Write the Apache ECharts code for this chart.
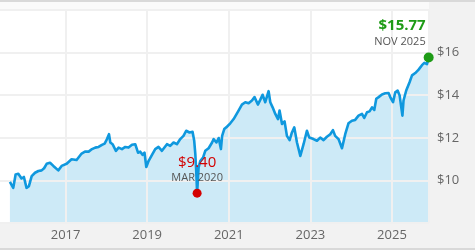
<!DOCTYPE html>
<html>
<head>
<meta charset="utf-8">
<script src="https://cdn.jsdelivr.net/npm/echarts@6/dist/echarts.min.js"></script>
<style>
  html, body { margin: 0; padding: 0; }
  #main { width: 475px; height: 250px; }
</style>
</head>
<body>
<div id="main"></div>
<script>
var dates = [
  '2015-08-21', '2015-09-20', '2015-10-11', '2015-11-04', '2015-12-03', '2015-12-24',
  '2016-01-17', '2016-02-07', '2016-03-03', '2016-04-02', '2016-05-02', '2016-05-31',
  '2016-06-22', '2016-07-15', '2016-08-14', '2016-09-13', '2016-10-27', '2016-11-26',
  '2017-01-10', '2017-02-23', '2017-04-09', '2017-05-24', '2017-06-23', '2017-07-26',
  '2017-08-25', '2017-09-23', '2017-10-23', '2017-11-22', '2017-12-16',
  '2018-01-06', '2018-01-24', '2018-02-05', '2018-02-25', '2018-03-27', '2018-04-20',
  '2018-05-20', '2018-06-19', '2018-07-18', '2018-08-18', '2018-09-16', '2018-10-11',
  '2018-10-31', '2018-11-20', '2018-12-08', '2018-12-24',
  '2019-01-13', '2019-02-13', '2019-03-14', '2019-04-12', '2019-05-13', '2019-06-27',
  '2019-07-26', '2019-08-25', '2019-09-24', '2019-10-24', '2019-11-22', '2019-12-16',
  '2020-01-15', '2020-02-11', '2020-02-26', '2020-03-07', '2020-03-15', '2020-03-23',
  '2020-04-05', '2020-04-20', '2020-05-15', '2020-06-04', '2020-07-04', '2020-08-04',
  '2020-08-18', '2020-09-12', '2020-10-02', '2020-10-22', '2020-11-02', '2020-11-21',
  '2020-12-15',
  '2021-01-14', '2021-02-13', '2021-02-28', '2021-03-29', '2021-04-28', '2021-05-28',
  '2021-06-27', '2021-07-27', '2021-08-19', '2021-09-18', '2021-10-09', '2021-10-30',
  '2021-11-23', '2021-12-23',
  '2022-01-07', '2022-01-28', '2022-02-21', '2022-03-17', '2022-03-31', '2022-04-22',
  '2022-05-15', '2022-06-05', '2022-06-29', '2022-07-20', '2022-08-10', '2022-09-03',
  '2022-10-03', '2022-11-01', '2022-12-01', '2022-12-22',
  '2023-01-29', '2023-03-01', '2023-03-30', '2023-04-29', '2023-05-29', '2023-06-28',
  '2023-07-22', '2023-08-11', '2023-09-10', '2023-10-11', '2023-11-09', '2023-12-08',
  '2024-01-08', '2024-02-06', '2024-03-07', '2024-04-07', '2024-04-27', '2024-05-22',
  '2024-06-14', '2024-07-06', '2024-07-26', '2024-08-13', '2024-09-03', '2024-10-03',
  '2024-11-02', '2024-12-01', '2024-12-16',
  '2025-01-10', '2025-01-30', '2025-02-20', '2025-03-10', '2025-04-04', '2025-04-14',
  '2025-05-08', '2025-06-07', '2025-06-29', '2025-07-28', '2025-08-27', '2025-09-26',
  '2025-10-17', '2025-11-10', '2025-11-25'
];

var prices = [
  9.93, 9.65, 10.28, 10.31, 10.09, 10.16,
  9.65, 9.73, 10.20, 10.36, 10.44, 10.47,
  10.57, 10.78, 10.83, 10.68, 10.47, 10.68,
  10.78, 10.99, 10.96, 11.26, 11.35, 11.35,
  11.47, 11.54, 11.57, 11.67, 11.73,
  11.94, 12.17, 11.78, 11.70, 11.39, 11.54,
  11.47, 11.57, 11.54, 11.67, 11.70, 11.30,
  11.35, 11.20, 11.30, 10.63,
  10.91, 11.20, 11.47, 11.57, 11.39, 11.70,
  11.62, 11.78, 11.70, 11.94, 12.09, 12.33,
  12.25, 12.28, 11.86, 11.23, 10.44, 9.40,
  10.60, 10.91, 11.07, 11.39, 11.51, 11.78,
  11.94, 11.78, 11.99, 11.47, 12.09, 12.41,
  12.52,
  12.68, 12.88, 12.80, 13.28, 13.56, 13.67,
  13.62, 13.75, 13.91, 13.56, 13.78, 14.02,
  13.67, 14.19,
  13.67, 13.43, 13.12, 12.88, 13.28, 12.65,
  12.77, 12.09, 11.89, 12.25, 12.49, 11.78,
  11.15, 11.70, 12.33, 12.01,
  11.94, 11.86, 12.01, 11.89, 12.05, 12.17,
  12.36, 12.09, 11.94, 11.51, 12.17, 12.68,
  12.80, 12.84, 13.04, 13.12, 12.93, 13.20,
  13.24, 13.43, 13.31, 13.83, 13.91, 14.03,
  14.09, 14.10, 13.91,
  13.67, 14.14, 14.22, 13.99, 13.04, 13.75,
  14.22, 14.61, 14.93, 15.04, 15.20, 15.41,
  15.52, 15.46, 15.77
];

var xStartYear = 2015;      // axis counted in years from here
var xEndDate = '2025-11-28';
var yTicks = [8, 10, 12, 14, 16, 18];

function yearsFromStart(d) {
  var p = d.split('-');
  var t = Date.UTC(+p[0], +p[1] - 1, +p[2]) - Date.UTC(xStartYear, 0, 1);
  return t / (365.25 * 86400000);
}

var seriesData = dates.map(function (d, i) { return [yearsFromStart(d), prices[i]]; });

var lowIdx = 0;
prices.forEach(function (v, i) { if (v < prices[lowIdx]) lowIdx = i; });
var lastIdx = prices.length - 1;
var monthNames = ['JAN', 'FEB', 'MAR', 'APR', 'MAY', 'JUN', 'JUL', 'AUG', 'SEP', 'OCT', 'NOV', 'DEC'];
function monthLabel(d) {
  var p = d.split('-');
  return monthNames[+p[1] - 1] + ' ' + p[0];
}

var chart = echarts.init(document.getElementById('main'));

chart.setOption({
  backgroundColor: '#f2f2f2',
  animation: false,
  textStyle: { fontFamily: 'Open Sans, sans-serif' },
  grid: {
    left: -16, right: 46, top: 10, bottom: 27,
    show: true, backgroundColor: '#ffffff', borderWidth: 0,
    containLabel: false, outerBoundsMode: 'none'
  },
  xAxis: {
    type: 'value',
    min: 0,
    max: yearsFromStart(xEndDate),
    interval: 2,
    z: 2,
    axisLine: { show: false },
    axisTick: { show: false },
    axisLabel: {
      color: '#666', fontSize: 13, margin: 6,
      showMinLabel: false, showMaxLabel: false,
      formatter: function (v) { return String(Math.round(xStartYear + v)); }
    },
    splitLine: { show: true, lineStyle: { color: '#f0f0f0', width: 2 } }
  },
  yAxis: {
    type: 'value',
    position: 'right',
    min: yTicks[0],
    max: yTicks[yTicks.length - 1],
    interval: 2,
    z: 2,
    axisLine: { show: false },
    axisTick: { show: false },
    axisLabel: {
      color: '#666', fontSize: 13, margin: 8,
      showMinLabel: false, showMaxLabel: false,
      formatter: function (v) { return '$' + v; }
    },
    splitLine: { show: true, lineStyle: { color: '#f0f0f0', width: 2 } }
  },
  series: [{
    // fill only, drawn under the grid lines
    type: 'line',
    z: 1,
    data: seriesData,
    showSymbol: false,
    lineStyle: { width: 0 },
    areaStyle: { color: '#cdeaf7', opacity: 1, origin: 'start' }
  }, {
    type: 'line',
    z: 3,
    data: seriesData,
    showSymbol: false,
    lineStyle: { color: '#0f98de', width: 2.6, join: 'round' },
    markPoint: {
      symbol: 'circle',
      data: [{
        coord: seriesData[lastIdx],
        symbolSize: 10,
        itemStyle: { color: '#1e9b16' },
        label: {
          show: true,
          position: 'top',
          align: 'right',
          distance: 4,
          offset: [-3, 0],
          formatter: '{v|$' + prices[lastIdx].toFixed(2) + '}\n{d|' + monthLabel(dates[lastIdx]) + '}',
          rich: {
            v: { color: '#1e9b16', fontSize: 15, fontWeight: 'bold', lineHeight: 19, align: 'right' },
            d: { color: '#555', fontSize: 11, lineHeight: 13, align: 'right' }
          }
        }
      }, {
        coord: seriesData[lowIdx],
        symbolSize: 9,
        itemStyle: { color: '#d40000' },
        label: {
          show: true,
          position: 'top',
          distance: 4,
          formatter: '{v|$' + prices[lowIdx].toFixed(2) + '}\n{d|' + monthLabel(dates[lowIdx]) + '}',
          rich: {
            v: { color: '#d40000', fontSize: 15, lineHeight: 17 },
            d: { color: '#555', fontSize: 11, lineHeight: 13 }
          }
        }
      }]
    }
  }],
  graphic: [
    { type: 'rect', left: 0, top: 0, shape: { width: 475, height: 2 }, style: { fill: '#d9d9d9' }, silent: true },
    { type: 'rect', left: 0, top: 2, shape: { width: 429, height: 8 }, style: { fill: '#fafafa' }, silent: true },
    { type: 'rect', left: 0, top: 9, shape: { width: 9, height: 214 }, style: { fill: '#ffffff' }, silent: true },
    { type: 'rect', left: 0, top: 248, shape: { width: 475, height: 2 }, style: { fill: '#d9d9d9' }, silent: true }
  ]
});
</script>
</body>
</html>
